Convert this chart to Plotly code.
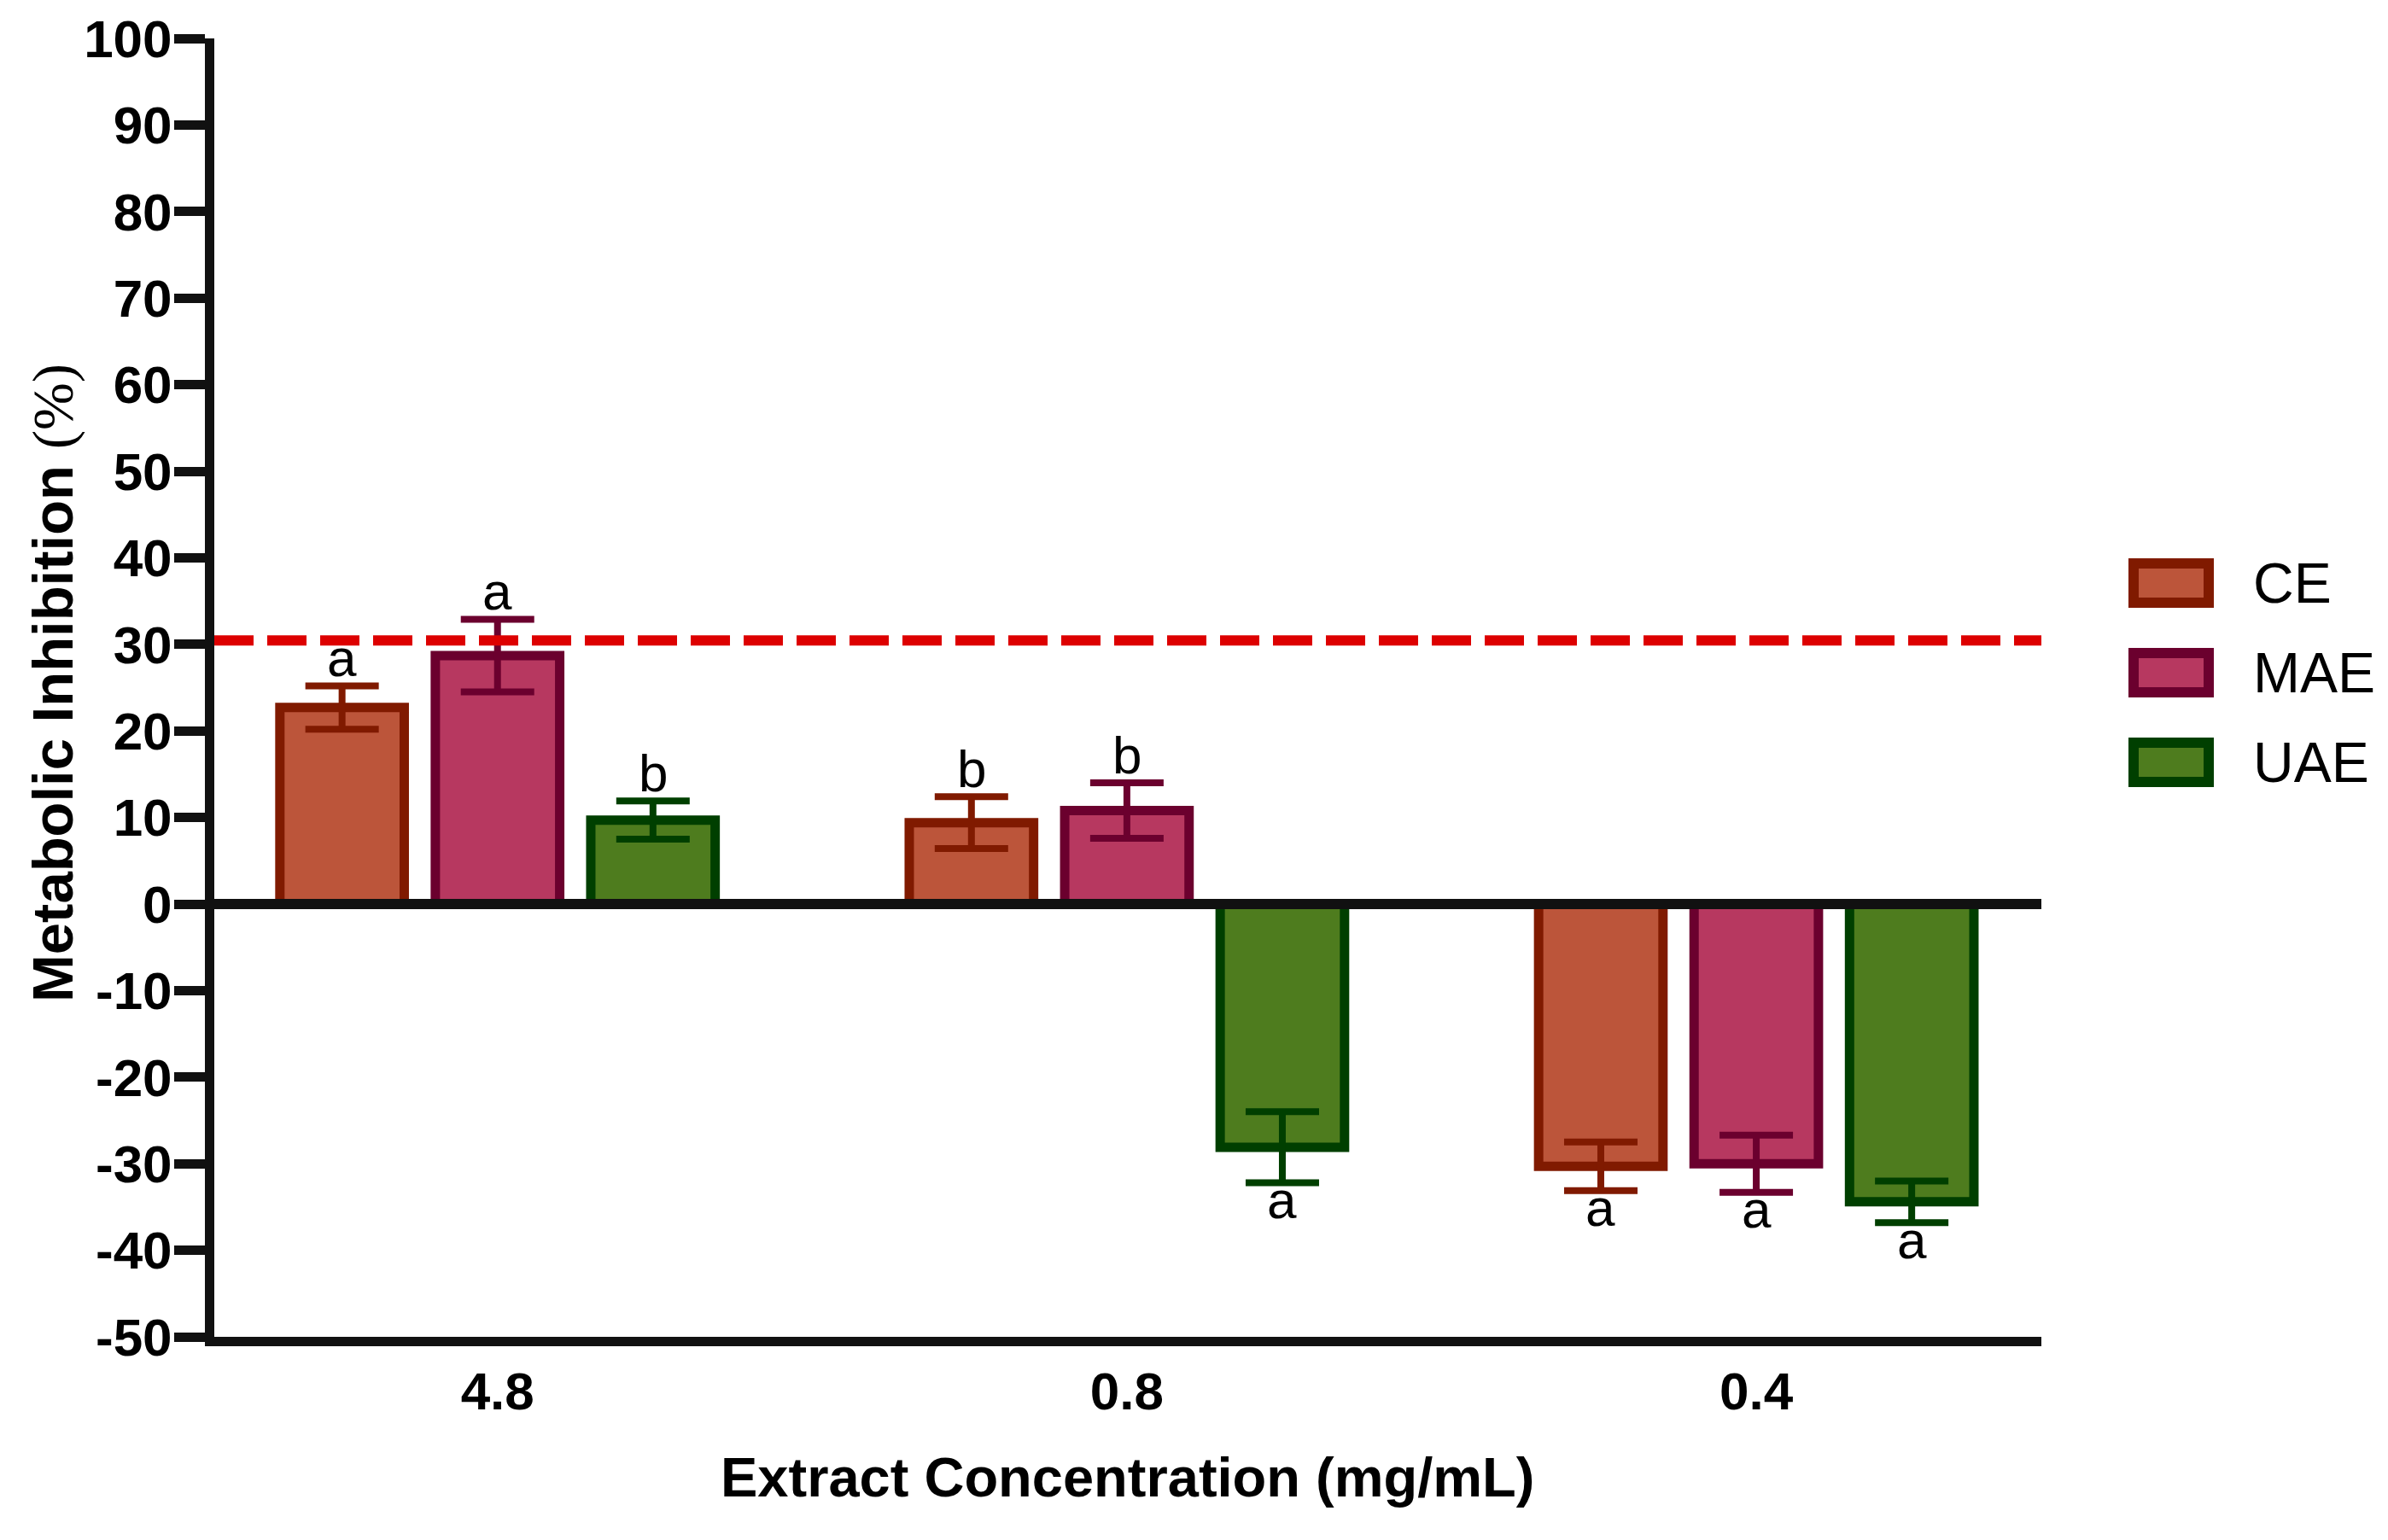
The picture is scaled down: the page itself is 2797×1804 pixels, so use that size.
import plotly.graph_objects as go

# ---------------- data ----------------
categories = ["4.8", "0.8", "0.4"]
series_names = ["CE", "MAE", "UAE"]
ce_values = [22.7, 9.4, -30.3]
ce_errors = [2.5, 3.0, 2.8]
mae_values = [28.7, 10.8, -30.0]
mae_errors = [4.2, 3.2, 3.3]
uae_values = [9.7, -28.1, -34.4]
uae_errors = [2.2, 4.1, 2.4]
ce_letters = ["a", "b", "a"]
mae_letters = ["a", "b", "a"]
uae_letters = ["b", "a", "a"]
threshold = 30.45
y_ticks = [-50, -40, -30, -20, -10, 0, 10, 20, 30, 40, 50, 60, 70, 80, 90, 100]
y_tick_labels = [str(v) for v in y_ticks]

# ---------------- style ----------------
fills = ["#BC553A", "#B73860", "#4E7C1E"]
outlines = ["#801A00", "#6B002E", "#003F00"]
OFF = 8                      # page offset of the plot div
W, H = 2797 - OFF, 1804 - OFF
# plot area in screen pixels
SX0, SX1, SY0, SY1 = 251, 2391, 45, 1566
ML, MT = SX0 - OFF, SY0 - OFF
MR, MB = W - (SX1 - OFF), H - (SY1 - OFF)
PW, PH = SX1 - SX0, SY1 - SY0
BARGAP, GROUPGAP = 0.259, 0.2
FONT = "Liberation Sans, Arial, sans-serif"


def px(xs):
    return (xs - SX0) / PW


def py(ys):
    return (SY1 - ys) / PH


values = [ce_values, mae_values, uae_values]
errors = [ce_errors, mae_errors, uae_errors]
letters = [ce_letters, mae_letters, uae_letters]

fig = go.Figure()
for j, name in enumerate(series_names):
    fig.add_trace(go.Bar(
        x=categories, y=values[j], name=name, showlegend=False,
        marker=dict(color=fills[j], line=dict(color=outlines[j], width=11)),
        error_y=dict(type="data", array=errors[j], visible=True,
                     color=outlines[j], thickness=8, width=43),
    ))

annotations = []
slot = (1 - BARGAP) / len(series_names)
for j in range(len(series_names)):
    for i in range(len(categories)):
        v, e = values[j][i], errors[j][i]
        if v >= 0:
            yv, ys = v + e, 33
        else:
            yv, ys = v - e, -20
        annotations.append(dict(
            x=i + (j - 1) * slot, y=yv, xref="x", yref="y", text=letters[j][i],
            showarrow=False, yshift=ys, xanchor="center", yanchor="middle",
            font=dict(family=FONT, size=62, color="black")))

# axis titles
annotations.append(dict(
    x=px(1320), y=py(1730), xref="paper", yref="paper", showarrow=False,
    text="<b>Extract Concentration (mg/mL)</b>", xanchor="center", yanchor="middle",
    font=dict(family=FONT, size=65, color="black")))
annotations.append(dict(
    x=px(62), y=py(800), xref="paper", yref="paper", showarrow=False, textangle=-90,
    text="<b>Metabolic Inhibition</b> <span style='font-family:Liberation Serif;font-weight:normal'>(%)</span>",
    xanchor="center", yanchor="middle",
    font=dict(family=FONT, size=67, color="black")))

shapes = [
    dict(type="line", xref="paper", yref="y", x0=0, x1=1, y0=threshold, y1=threshold,
         line=dict(color="#DD0000", width=12, dash="46px,16px"), layer="above"),
    dict(type="line", xref="paper", yref="y", x0=0, x1=1, y0=0, y1=0,
         line=dict(color="#111111", width=12), layer="above"),
]

# legend drawn as shapes + text
for j, name in enumerate(series_names):
    yc = 683 + 105 * j
    shapes.append(dict(type="rect", xref="paper", yref="paper",
                       x0=px(2499), x1=px(2587), y0=py(yc - 23), y1=py(yc + 23),
                       fillcolor=fills[j], line=dict(color=outlines[j], width=12),
                       layer="above"))
    annotations.append(dict(x=px(2637), y=py(yc), xref="paper", yref="paper",
                            text=name, showarrow=False, xanchor="left", yanchor="middle",
                            font=dict(family=FONT, size=66, color="black")))

fig.update_layout(
    width=W, height=H, paper_bgcolor="white", plot_bgcolor="white",
    margin=dict(l=ML, r=MR, t=MT, b=MB, autoexpand=False),
    barmode="group", bargap=BARGAP, bargroupgap=GROUPGAP,
    showlegend=False, annotations=annotations, shapes=shapes,
    xaxis=dict(range=[-0.450, 2.453], showline=True, linecolor="#111111", linewidth=11,
               ticks="", showgrid=False, zeroline=False, ticklabelstandoff=0,
               tickfont=dict(family=FONT, size=62, color="black", weight="bold")),
    yaxis=dict(range=[-50, 100], tickvals=y_ticks, ticktext=y_tick_labels,
               showline=True, linecolor="#111111", linewidth=11,
               ticks="outside", ticklen=36, tickwidth=11, tickcolor="#111111",
               showgrid=False, zeroline=False, ticklabelstandoff=-10,
               tickfont=dict(family=FONT, size=62, color="black", weight="bold")),
)

fig.write_html("out.html")
